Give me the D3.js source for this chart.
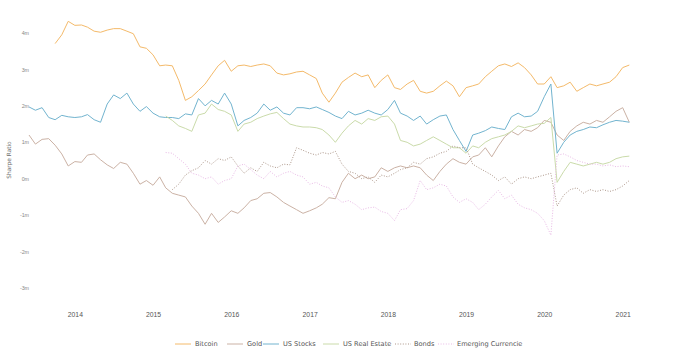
<!DOCTYPE html>
<html>
<head>
<meta charset="utf-8">
<script src="https://cdn.jsdelivr.net/npm/d3@7"></script>
<style>
  body { margin: 0; background: #fff; }
  svg { display: block; font-family: "DejaVu Sans", Verdana, sans-serif; }
  .axis text { fill: #555; }
  .axis path, .axis line { display: none; }
</style>
</head>
<body>
<svg id="chart"></svg>
<script>
// monthly rolling sharpe ratios, first month of each series given separately
const bitcoinStart = "2013-10";
const bitcoin = [3.71, 3.95, 4.32, 4.21, 4.22, 4.16, 4.05, 4.02, 4.08, 4.12, 4.12, 4.05, 3.98, 3.62, 3.58, 3.4, 3.1,
    3.12, 3.1, 2.7, 2.15, 2.25, 2.42, 2.6, 2.85, 3.1, 3.25, 2.95, 3.1, 3.12, 3.08, 3.12, 3.15, 3.1, 2.9, 2.85, 2.88,
    2.93, 2.95, 2.85, 2.75, 2.35, 2.1, 2.35, 2.65, 2.78, 2.9, 2.8, 2.85, 2.5, 2.7, 2.85, 2.5, 2.45, 2.6, 2.7, 2.4,
    2.35, 2.4, 2.55, 2.68, 2.55, 2.25, 2.5, 2.55, 2.6, 2.8, 2.95, 3.1, 3.15, 3.08, 3.18, 3.05, 2.85, 2.6, 2.6, 2.8,
    2.5, 2.55, 2.65, 2.4, 2.5, 2.6, 2.55, 2.6, 2.65, 2.8, 3.05, 3.12];

const goldStart = "2013-06";
const gold = [1.2, 0.95, 1.08, 1.1, 0.92, 0.68, 0.35, 0.47, 0.45, 0.65, 0.68, 0.52, 0.38, 0.28, 0.45, 0.4, 0.15,
    -0.15, -0.05, -0.18, 0.05, -0.25, -0.4, -0.45, -0.5, -0.75, -0.95, -1.25, -0.95, -1.2, -1.05, -0.88, -0.95, -0.8,
    -0.6, -0.55, -0.4, -0.38, -0.5, -0.65, -0.75, -0.85, -0.95, -0.88, -0.8, -0.7, -0.52, -0.55, -0.1, 0.15, 0.0, 0.1,
    0.0, 0.05, 0.3, 0.2, 0.3, 0.35, 0.3, 0.35, 0.3, 0.1, -0.05, 0.2, 0.4, 0.55, 0.45, 0.4, 0.6, 0.65, 0.85, 0.6, 0.9,
    1.15, 1.3, 1.2, 1.35, 1.3, 1.4, 1.6, 1.55, 1.2, 1.05, 1.3, 1.45, 1.55, 1.5, 1.6, 1.55, 1.7, 1.85, 1.95, 1.55];

const stocksStart = "2013-06";
const stocks = [1.97, 1.88, 1.95, 1.68, 1.62, 1.74, 1.7, 1.68, 1.7, 1.76, 1.62, 1.55, 2.05, 2.3, 2.2, 2.35, 2.05,
    1.85, 1.98, 1.8, 1.7, 1.68, 1.68, 1.65, 1.78, 1.75, 2.2, 2.0, 2.15, 2.05, 2.35, 2.05, 1.45, 1.6, 1.68, 1.8, 2.05,
    1.88, 1.97, 1.8, 1.75, 1.95, 1.95, 1.92, 1.97, 1.9, 1.82, 1.72, 1.65, 1.85, 1.75, 1.8, 1.88, 1.8, 1.75, 1.9, 2.15,
    1.8, 1.72, 1.6, 1.72, 1.5, 1.62, 1.72, 1.75, 1.35, 1.05, 0.75, 1.2, 1.25, 1.32, 1.42, 1.38, 1.35, 1.7, 1.8, 1.7,
    1.72, 1.85, 2.25, 2.6, 0.7, 1.0, 1.2, 1.3, 1.35, 1.42, 1.4, 1.48, 1.55, 1.6, 1.58, 1.55];

const realEstateStart = "2015-03";
const realEstate = [1.72, 1.6, 1.45, 1.38, 1.3, 1.75, 1.8, 2.05, 1.9, 1.85, 1.75, 1.3, 1.5, 1.55, 1.65, 1.72, 1.78,
    1.82, 1.65, 1.5, 1.45, 1.42, 1.42, 1.4, 1.35, 1.2, 1.0, 1.25, 1.45, 1.6, 1.5, 1.65, 1.6, 1.7, 1.72, 1.5, 1.05, 1.0,
    0.9, 0.95, 1.05, 1.15, 1.05, 0.95, 0.85, 0.85, 0.7, 0.9, 0.85, 1.0, 1.1, 1.15, 1.2, 1.3, 1.45, 1.4, 1.45, 1.5,
    1.52, 1.68, -0.1, 0.2, 0.45, 0.4, 0.35, 0.4, 0.45, 0.4, 0.45, 0.55, 0.6, 0.62];

const bondsStart = "2015-04";
const bonds = [-0.3, -0.15, 0.1, 0.22, 0.3, 0.5, 0.4, 0.55, 0.5, 0.6, 0.35, 0.15, 0.3, 0.2, 0.45, 0.35, 0.3, 0.4,
    0.38, 0.85, 0.78, 0.7, 0.65, 0.72, 0.68, 0.75, 0.4, 0.2, 0.15, 0.0, 0.05, -0.1, 0.1, 0.05, 0.15, 0.25, 0.3, 0.45,
    0.4, 0.55, 0.6, 0.7, 0.75, 0.9, 0.85, 0.85, 0.4, 0.3, 0.2, 0.1, -0.05, 0.05, -0.15, 0.0, 0.05, 0.0, 0.05, 0.1,
    0.15, -0.75, -0.45, -0.3, -0.25, -0.4, -0.3, -0.35, -0.3, -0.35, -0.3, -0.2, -0.05];

const emergingStart = "2015-03";
const emerging = [0.72, 0.7, 0.55, 0.4, 0.15, 0.1, 0.0, 0.05, -0.15, -0.05, 0.0, 0.35, 0.4, 0.25, 0.1, 0.0, 0.2,
    0.05, 0.15, 0.2, 0.1, 0.05, -0.15, -0.1, -0.2, -0.25, -0.5, -0.65, -0.6, -0.7, -0.85, -0.8, -0.78, -0.9, -0.95,
    -1.15, -0.85, -0.82, -0.6, -0.05, -0.3, -0.25, -0.15, -0.2, -0.5, -0.65, -0.55, -0.65, -0.85, -0.7, -0.5, -0.32,
    -0.55, -0.45, -0.7, -0.8, -0.85, -0.95, -1.15, -1.55, 0.65, 0.68, 0.6, 0.5, 0.45, 0.4, 0.4, 0.35, 0.38, 0.33,
    0.35, 0.33];

const seriesNames = ["Bitcoin", "Gold", "US Stocks", "US Real Estate", "Bonds", "Emerging Currencie"];
const yTicks = [-3, -2, -1, 0, 1, 2, 3, 4];

const width = 700, height = 359;

const parseMonth = d3.timeParse("%Y-%m");
function monthly(start, values) {
    const first = parseMonth(start);
    return values.map((v, i) => ({date: d3.timeMonth.offset(first, i), value: v}));
}

const series = [
    {name: seriesNames[0], data: monthly(bitcoinStart, bitcoin), color: "#f4ba6a", dash: null},
    {name: seriesNames[1], data: monthly(goldStart, gold), color: "#cbb2a5", dash: null},
    {name: seriesNames[2], data: monthly(stocksStart, stocks), color: "#72b4cf", dash: null},
    {name: seriesNames[3], data: monthly(realEstateStart, realEstate), color: "#cadbaa", dash: null},
    {name: seriesNames[4], data: monthly(bondsStart, bonds), color: "#ad978a", dash: "1,1.6"},
    {name: seriesNames[5], data: monthly(emergingStart, emerging), color: "#e9bae6", dash: "1,1.6"}
];

const svg = d3.select("#chart")
    .attr("width", width)
    .attr("height", height);

const x = d3.scaleTime()
    .domain([new Date(2013, 5, 1), new Date(2021, 1, 1)])
    .range([29, 629.3]);

const y = d3.scaleLinear()
    .domain([-3, 4])
    .range([288, 33]);

// axes
svg.append("g")
    .attr("class", "axis")
    .attr("transform", "translate(0 309)")
    .call(d3.axisBottom(x).ticks(d3.timeYear.every(1)).tickFormat(d3.timeFormat("%Y")).tickSize(0))
    .selectAll("text")
    .style("font-size", "6.8px")
    .attr("dy", "0.71em");

svg.append("g")
    .attr("class", "axis")
    .attr("transform", "translate(29 0)")
    .call(d3.axisLeft(y).tickValues(yTicks).tickFormat(d => d + "m").tickSize(0).tickPadding(0))
    .selectAll("text")
    .style("font-size", "5.3px")
    .style("fill", "#888");

svg.append("text")
    .attr("transform", "translate(8.5 160) rotate(-90)")
    .attr("text-anchor", "middle")
    .attr("dy", "0.35em")
    .style("font-size", "5.8px")
    .style("fill", "#666")
    .text("Sharpe Ratio");

// lines
const line = d3.line()
    .x(d => x(d.date))
    .y(d => y(d.value))
    .curve(d3.curveLinear);

svg.append("g")
    .selectAll("path")
    .data(series)
    .join("path")
    .attr("d", d => line(d.data))
    .attr("fill", "none")
    .attr("stroke", d => d.color)
    .attr("stroke-width", 1)
    .attr("stroke-dasharray", d => d.dash)
    .attr("stroke-linejoin", "round");

// legend
const legendX = [175, 227, 263, 323, 395, 438];
const legend = svg.append("g")
    .attr("transform", "translate(0 344)");

const item = legend.selectAll("g")
    .data(series)
    .join("g")
    .attr("transform", (d, i) => `translate(${legendX[i]} 0)`);

item.append("line")
    .attr("x1", 0)
    .attr("x2", 16)
    .attr("stroke", d => d.color)
    .attr("stroke-width", 1)
    .attr("stroke-dasharray", d => d.dash);

item.append("text")
    .attr("x", d => d.dash ? 19 : 20)
    .attr("dy", "0.35em")
    .style("font-size", "6.6px")
    .style("fill", "#555")
    .text(d => d.name);
</script>
</body>
</html>
